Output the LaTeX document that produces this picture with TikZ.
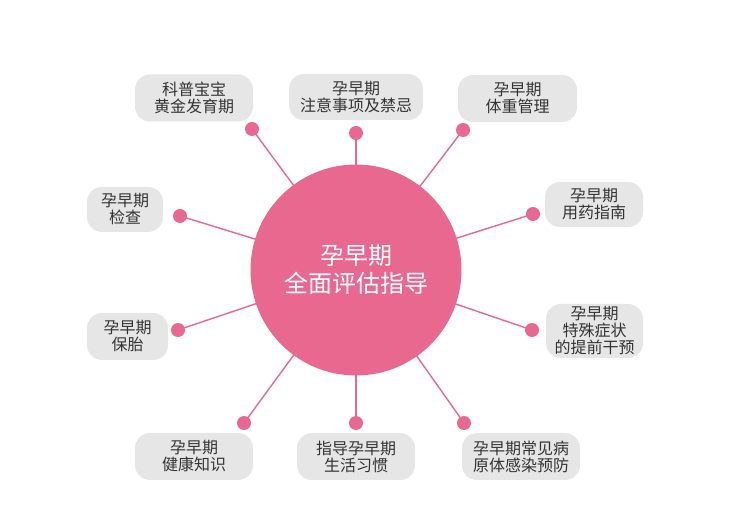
\documentclass[tikz,border=0pt]{standalone}
\usepackage{fontspec}
\newfontfamily\cjk{Noto Sans CJK SC}
\definecolor{pinkc}{HTML}{E8688F}
\definecolor{boxg}{HTML}{E6E6E6}
\definecolor{txtg}{HTML}{333333}
\begin{document}
\begin{tikzpicture}[x=1pt,y=-1pt,
  leaf/.style={fill=boxg, rounded corners=15pt, align=center, text=txtg, font=\cjk\fontsize{16}{17}\selectfont, inner sep=0pt},
  dot/.style={circle, fill=pinkc, minimum size=14pt, inner sep=0pt},
  link/.style={draw=pinkc, line width=1.4pt}]
\useasboundingbox (0,0) rectangle (750,526);
\coordinate (c) at (356,270);
% dots
\node[dot] (d1) at (252,129) {};
\node[dot] (d2) at (356,133) {};
\node[dot] (d3) at (463,130) {};
\node[dot] (d4) at (180,216) {};
\node[dot] (d5) at (533,214) {};
\node[dot] (d6) at (178,330) {};
\node[dot] (d7) at (532,330) {};
\node[dot] (d8) at (244,423) {};
\node[dot] (d9) at (356,423) {};
\node[dot] (d10) at (464,423) {};
\foreach \i in {1,...,10} {\draw[link] (d\i.center) -- (c);}
\node[circle, fill=pinkc, minimum size=211pt, inner sep=0pt, align=center, text=white, font=\cjk\fontsize{24}{28}\selectfont] (hub) at (c) {孕早期\\全面评估指导};
% boxes
\node[leaf, minimum width=118pt, minimum height=47pt] (b1) at (194,98) {科普宝宝\\黄金发育期};
\node[leaf, minimum width=134pt, minimum height=46pt] (b2) at (356,97) {孕早期\\注意事项及禁忌};
\node[leaf, minimum width=119pt, minimum height=47pt] (b3) at (517.5,98.5) {孕早期\\体重管理};
\node[leaf, minimum width=76pt, minimum height=45pt] (b4) at (125,209.5) {孕早期\\检查};
\node[leaf, minimum width=98pt, minimum height=45pt] (b5) at (594,204.5) {孕早期\\用药指南};
\node[leaf, minimum width=81pt, minimum height=47pt] (b6) at (127.5,336.5) {孕早期\\保胎};
\node[leaf, minimum width=97pt, minimum height=54pt] (b7) at (594.5,331) {孕早期\\特殊症状\\的提前干预};
\node[leaf, minimum width=118pt, minimum height=47pt] (b8) at (194,456.5) {孕早期\\健康知识};
\node[leaf, minimum width=118pt, minimum height=47pt] (b9) at (356,456.5) {指导孕早期\\生活习惯};
\node[leaf, minimum width=118pt, minimum height=47pt] (b10) at (521,456.5) {孕早期常见病\\原体感染预防};
\end{tikzpicture}
\end{document}
